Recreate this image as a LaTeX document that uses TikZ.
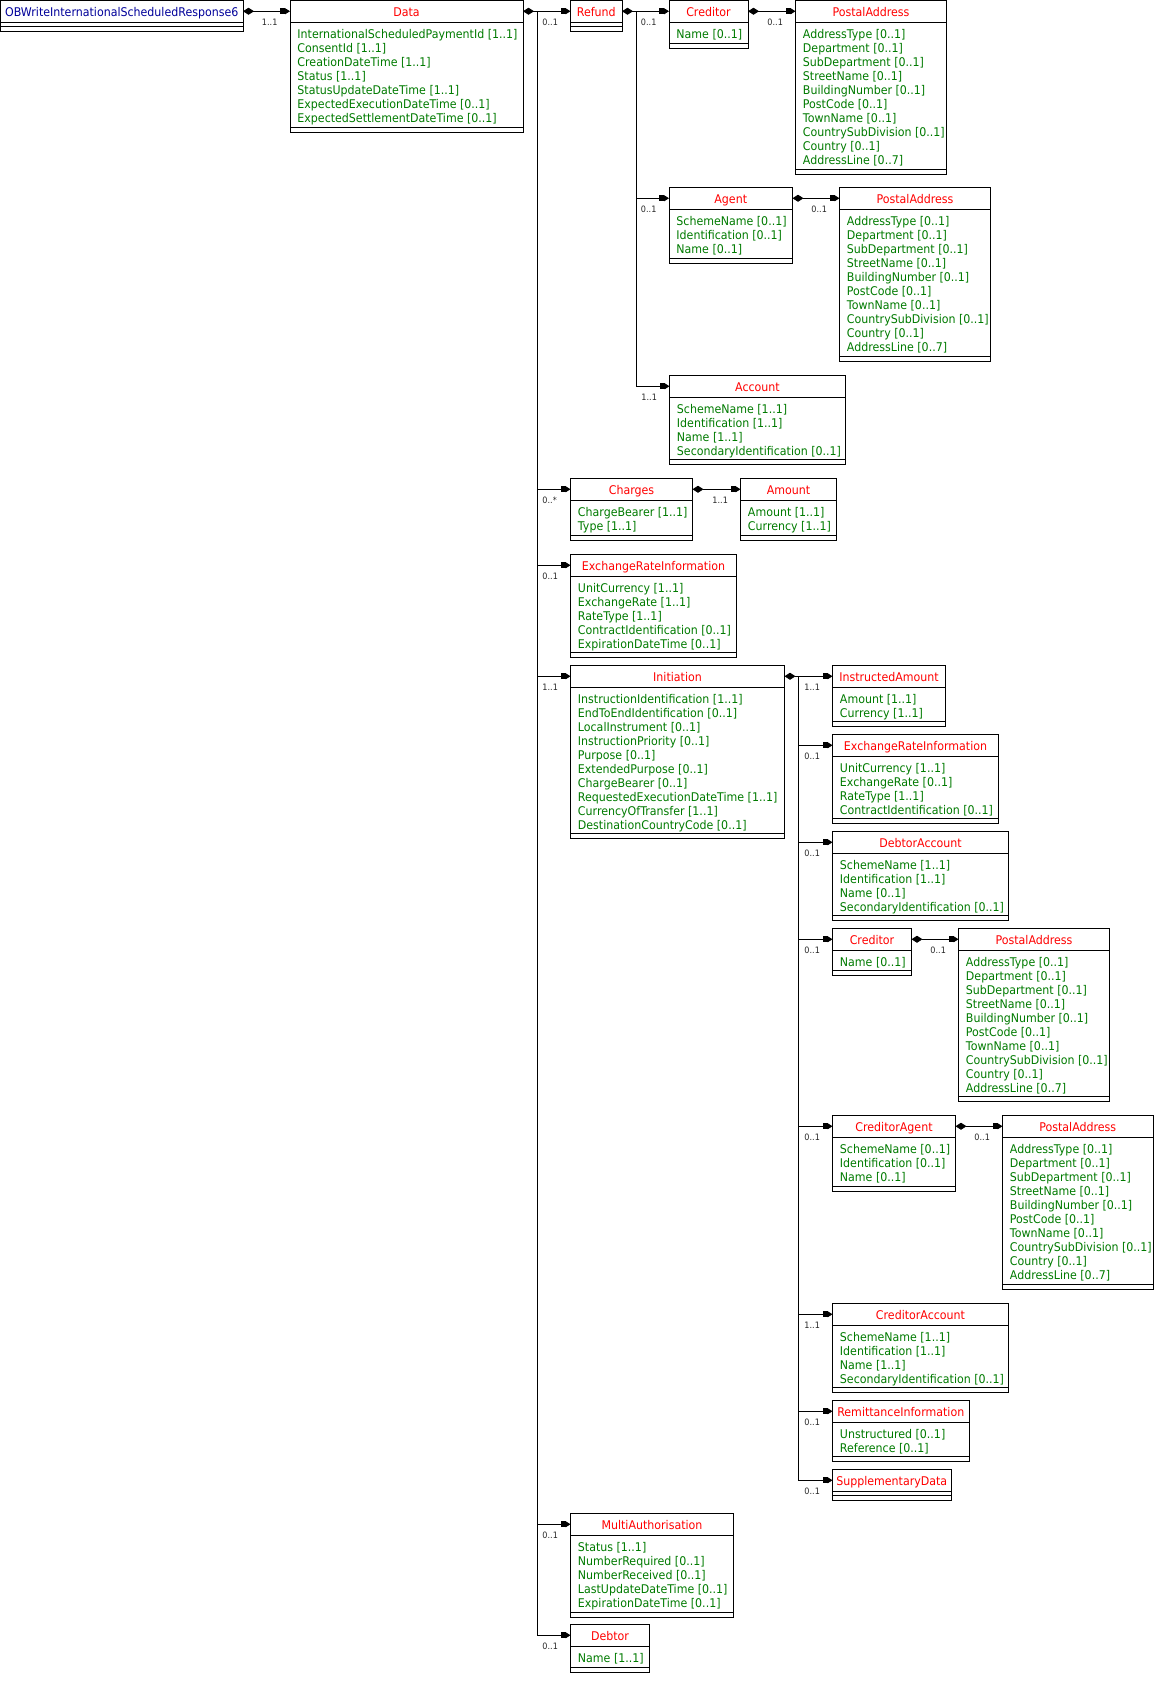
\documentclass[tikz,border=0pt]{standalone}
\usepackage{fontspec}
\usetikzlibrary{positioning,calc,arrows.meta}
\newfontfamily\umlfont[FakeStretch=0.92]{DejaVu Sans}
\definecolor{head}{HTML}{FF0000}
\definecolor{attr}{HTML}{007A00}
\definecolor{rootname}{HTML}{000099}

\begin{document}
\begin{tikzpicture}[x=1pt, y=-1pt, line width=0.9pt,
  font=\umlfont\fontsize{12}{14}\selectfont,
  clshead/.style={draw, outer sep=0pt, inner sep=0pt, minimum height=21.5pt, text height=11pt, text depth=0pt, text=head},
  clsattr/.style={anchor=west, inner sep=0pt, text=attr},
  mult/.style={anchor=west, inner sep=0pt, text=black!85, font=\umlfont\fontsize{8.8}{10}\selectfont},
  owns/.style={{Diamond[length=11pt,width=7pt]}-},
  tohead/.style={-{Square[length=5pt,width=6pt]Triangle[length=5pt,width=6pt]}},
  hasa/.style={{Diamond[length=11pt,width=7pt]}-{Square[length=5pt,width=6pt]Triangle[length=5pt,width=6pt]}}]
\useasboundingbox (0,0) rectangle (1154,1692);
\newcommand{\cls}[7]{% name, left, top, right, bottom, title, attributes
  \node[clshead, minimum width={#4-#2}, anchor=north west] (#1) at (#2,#3) {#6};
  \draw (#1.south west) rectangle (#4,#5) (#2,#5-5) -- (#4,#5-5);
  \edef\clsattrs{#7}
  \foreach \a [count=\i from 0] in \clsattrs \node[clsattr] (#1-\i) at (#2+7,#3+34.5+14*\i) {\a};}
\newcommand{\comp}[3]{% whole, part, multiplicity
  \draw[hasa] (#1.east) -- (#2.west);
  \node[mult] (#2-m) at ($(#2.west)+(-28.5,11)$) {#3};}
\newcommand{\drop}[3]{% bus, part, multiplicity
  \draw[tohead] (#1) |- (#2.west);
  \node[mult] (#2-m) at ($(#2.west)+(-28.5,11)$) {#3};}
\def\pa{AddressType [0..1],Department [0..1],SubDepartment [0..1],StreetName [0..1],BuildingNumber [0..1],PostCode [0..1],TownName [0..1],CountrySubDivision [0..1],Country [0..1],AddressLine [0..7]}
% top level
\cls{root}{0.5}{0.5}{243}{31}{\textcolor{rootname}{OBWriteInternationalScheduledResponse6}}{}
\cls{data}{290}{0.5}{523}{132}{Data}{InternationalScheduledPaymentId [1..1],ConsentId [1..1],CreationDateTime [1..1],Status [1..1],StatusUpdateDateTime [1..1],ExpectedExecutionDateTime [0..1],ExpectedSettlementDateTime [0..1]}
\comp{root}{data}{1..1}
% refund branch
\cls{refund}{570.5}{0.5}{622}{31}{Refund}{}
\cls{rfdcdtr}{669}{0.5}{748}{48}{Creditor}{Name [0..1]}
\cls{rfdcdtrpa}{795.5}{0.5}{946.5}{174}{PostalAddress}{\pa}
\cls{rfdagt}{669}{187.5}{792.5}{263}{Agent}{SchemeName [0..1],Identification [0..1],Name [0..1]}
\cls{rfdagtpa}{839.5}{187.5}{990.5}{361}{PostalAddress}{\pa}
\cls{rfdacct}{669.5}{375.5}{845.5}{464}{Account}{SchemeName [1..1],Identification [1..1],Name [1..1],SecondaryIdentification [0..1]}
% charges and rate
\cls{charges}{570.5}{478.5}{692.5}{540}{Charges}{ChargeBearer [1..1],Type [1..1]}
\cls{amount}{740.5}{478.5}{836.5}{540}{Amount}{Amount [1..1],Currency [1..1]}
\cls{xrate}{570.5}{554.5}{736.5}{657}{ExchangeRateInformation}{UnitCurrency [1..1],ExchangeRate [1..1],RateType [1..1],ContractIdentification [0..1],ExpirationDateTime [0..1]}
% initiation
\cls{init}{570.5}{665.5}{784.5}{838.5}{Initiation}{InstructionIdentification [1..1],EndToEndIdentification [0..1],LocalInstrument [0..1],InstructionPriority [0..1],Purpose [0..1],ExtendedPurpose [0..1],ChargeBearer [0..1],RequestedExecutionDateTime [1..1],CurrencyOfTransfer [1..1],DestinationCountryCode [0..1]}
\cls{instdamt}{832.5}{665.5}{945.5}{726}{InstructedAmount}{Amount [1..1],Currency [1..1]}
\cls{initxrate}{832.5}{734.5}{998.5}{823.5}{ExchangeRateInformation}{UnitCurrency [1..1],ExchangeRate [0..1],RateType [1..1],ContractIdentification [0..1]}
\cls{dbtracct}{832.5}{831.5}{1008.5}{920}{DebtorAccount}{SchemeName [1..1],Identification [1..1],Name [0..1],SecondaryIdentification [0..1]}
\cls{cdtr}{832.5}{928.5}{911.5}{975.5}{Creditor}{Name [0..1]}
\cls{cdtrpa}{958.5}{928.5}{1109.5}{1101.5}{PostalAddress}{\pa}
\cls{cdtragt}{832.5}{1115.5}{955.5}{1191}{CreditorAgent}{SchemeName [0..1],Identification [0..1],Name [0..1]}
\cls{cdtragtpa}{1002.5}{1115.5}{1153}{1289.5}{PostalAddress}{\pa}
\cls{cdtracct}{832.5}{1303.5}{1008.5}{1392.5}{CreditorAccount}{SchemeName [1..1],Identification [1..1],Name [1..1],SecondaryIdentification [0..1]}
\cls{rmtinf}{832.5}{1400.5}{969}{1461}{RemittanceInformation}{Unstructured [0..1],Reference [0..1]}
\cls{splmtry}{832.5}{1469.5}{951}{1500}{SupplementaryData}{}
% authorisation and debtor
\cls{multiauth}{570.5}{1513.5}{733.5}{1617.5}{MultiAuthorisation}{Status [1..1],NumberRequired [0..1],NumberReceived [0..1],LastUpdateDateTime [0..1],ExpirationDateTime [0..1]}
\cls{dbtr}{570.5}{1624.5}{649.5}{1672.5}{Debtor}{Name [1..1]}
% connectors
\draw[owns] (data.east) -- ++(14,0) coordinate (databus);
\drop{databus}{refund}{0..1} \drop{databus}{charges}{0..*} \drop{databus}{xrate}{0..1}
\drop{databus}{init}{1..1} \drop{databus}{multiauth}{0..1} \drop{databus}{dbtr}{0..1}
\draw[owns] (refund.east) -- ++(14,0) coordinate (refundbus);
\drop{refundbus}{rfdcdtr}{0..1} \drop{refundbus}{rfdagt}{0..1} \drop{refundbus}{rfdacct}{1..1}
\comp{rfdcdtr}{rfdcdtrpa}{0..1} \comp{rfdagt}{rfdagtpa}{0..1} \comp{charges}{amount}{1..1}
\draw[owns] (init.east) -- ++(14,0) coordinate (initbus);
\drop{initbus}{instdamt}{1..1} \drop{initbus}{initxrate}{0..1} \drop{initbus}{dbtracct}{0..1}
\drop{initbus}{cdtr}{0..1} \drop{initbus}{cdtragt}{0..1} \drop{initbus}{cdtracct}{1..1}
\drop{initbus}{rmtinf}{0..1} \drop{initbus}{splmtry}{0..1}
\comp{cdtr}{cdtrpa}{0..1} \comp{cdtragt}{cdtragtpa}{0..1}
\end{tikzpicture}
\end{document}
